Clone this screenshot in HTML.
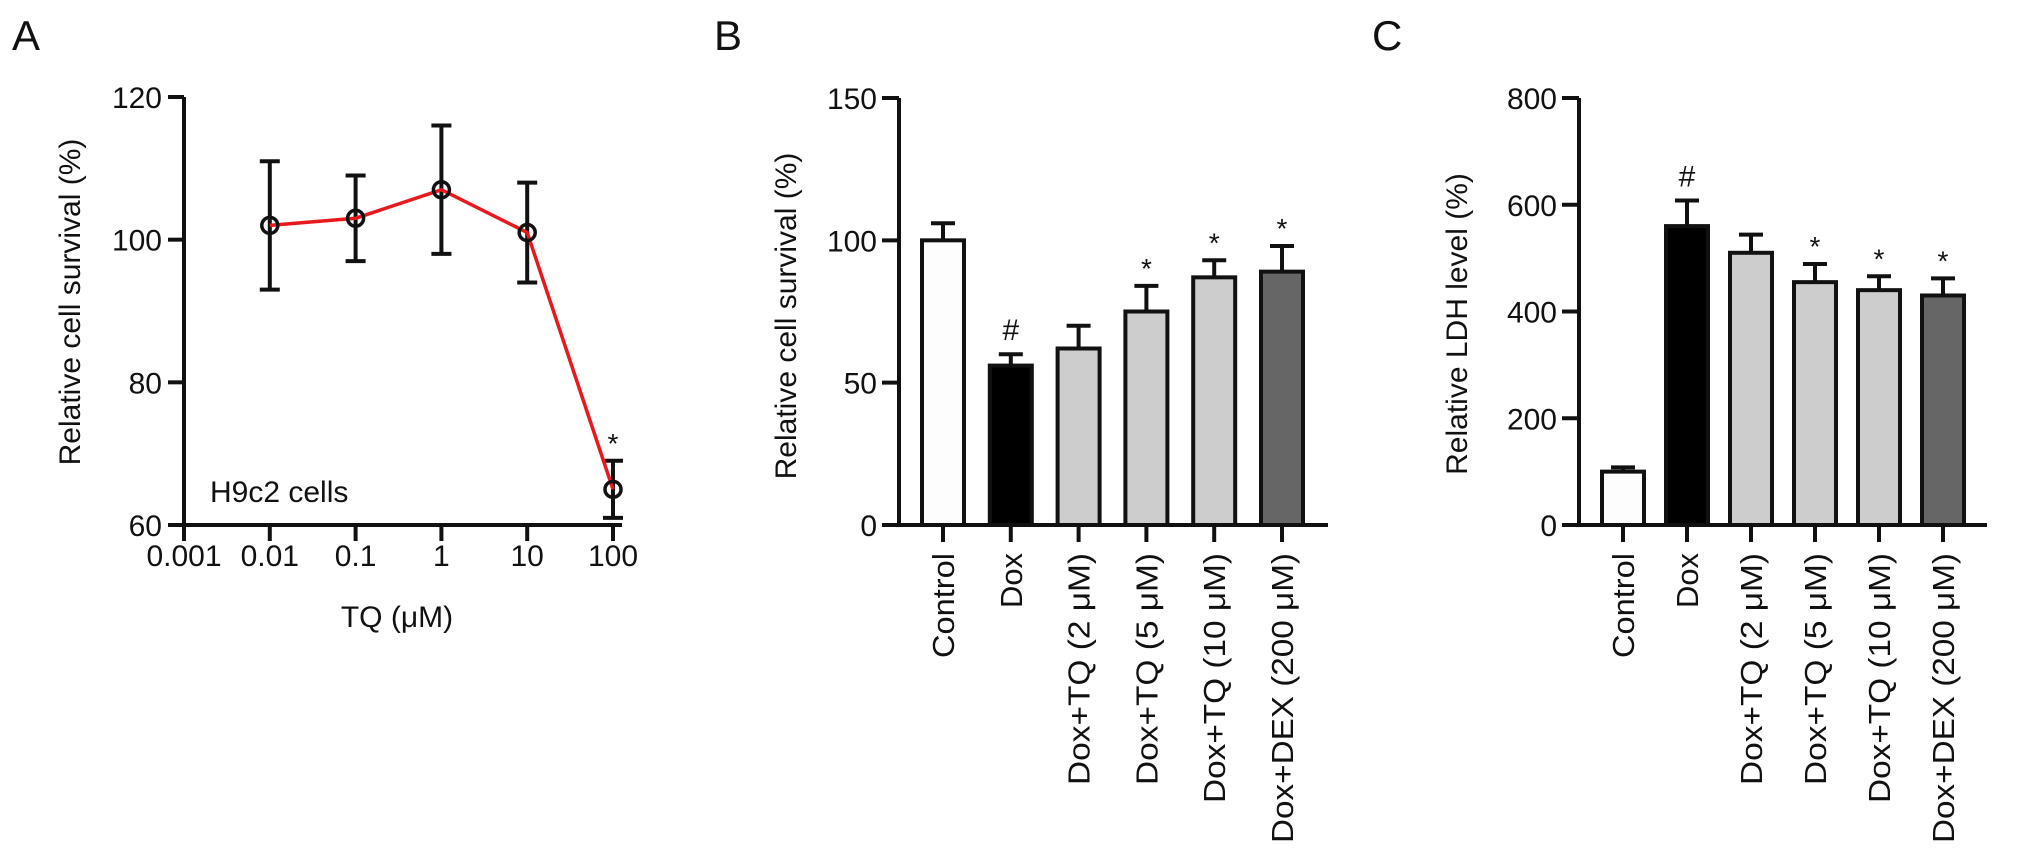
<!DOCTYPE html>
<html><head><meta charset="utf-8"><style>
html,body{margin:0;padding:0;background:#fff}
svg text{font-family:"Liberation Sans",Arial,sans-serif;fill:#111}
</style></head><body>
<svg id="fig" width="2032" height="856" xmlns="http://www.w3.org/2000/svg">
<text x="12" y="50" font-size="42">A</text>
<text x="714" y="50" font-size="42">B</text>
<text x="1372" y="50" font-size="42">C</text>
<g id="pa"></g>
<g id="pb"></g>
<g id="pc"></g>
</svg>
<script>
const NS='http://www.w3.org/2000/svg';
// Panel A data
const aDoses=[0.01,0.1,1,10,100];
const aMeans=[102,103,107,101,65];
const aErrs=[9,6,9,7,4];
const aXTicks=['0.001','0.01','0.1','1','10','100'];
const aYTicks=[60,80,100,120];
// Panel B data
const bCats=['Control','Dox','Dox+TQ (2 \u03bcM)','Dox+TQ (5 \u03bcM)','Dox+TQ (10 \u03bcM)','Dox+DEX (200 \u03bcM)'];
const bMeans=[100,56,62,75,87,89];
const bErrs=[6,4,8,9,6,9];
const bMarks=['','#','','*','*','*'];
const bYTicks=[0,50,100,150];
// Panel C data
const cMeans=[100,560,510,455,440,430];
const cErrs=[8,48,34,34,26,32];
const cMarks=['','#','','*','*','*'];
const cYTicks=[0,200,400,600,800];
const fills=['#fdfdfd','#000','#cdcdcd','#cdcdcd','#cdcdcd','#666'];

function mk(parent,tag,attrs,txt){const e=document.createElementNS(NS,tag);for(const k in attrs)e.setAttribute(k,attrs[k]);if(txt!==undefined)e.textContent=txt;parent.appendChild(e);return e;}
function line(p,x1,y1,x2,y2,c,w){return mk(p,'line',{x1,y1,x2,y2,stroke:c||'#111','stroke-width':w||4});}

// ---- Panel A
(function(){
  const g=document.getElementById('pa');
  const x0=184,x1=622,yTop=97,yBot=525;
  const xs=v=>184+(Math.log10(v)+3)*85.8;
  const ys=v=>yBot-(v-60)/60*(yBot-yTop);
  let l=line(g,x0,yTop,x0,yBot+2);
  l=line(g,x0-2,yBot,x1,yBot);
  aYTicks.forEach(v=>{line(g,x0-16,ys(v),x0,ys(v));
    const t=mk(g,'text',{x:x0-22,y:ys(v)+11,'font-size':30,'text-anchor':'end'},String(v));
    });
  aXTicks.forEach(s=>{const x=xs(parseFloat(s));line(g,x,yBot,x,yBot+16);
    const t=mk(g,'text',{x:x,y:566,'font-size':30,'text-anchor':'middle'},s);
    });
  let t=mk(g,'text',{x:397,y:627,'font-size':30,'text-anchor':'middle'},'TQ (\u03bcM)');
  
  t=mk(g,'text',{x:0,y:0,'font-size':30,'text-anchor':'middle',transform:'translate(80,302) rotate(-90)'},'Relative cell survival (%)');
  
  t=mk(g,'text',{x:210,y:502,'font-size':30},'H9c2 cells');
  
  aDoses.forEach((d,i)=>{const x=xs(d);
    const e=mk(g,'path',{d:`M${x-10},${ys(aMeans[i]+aErrs[i])}H${x+10}M${x},${ys(aMeans[i]+aErrs[i])}V${ys(aMeans[i]-aErrs[i])}M${x-10},${ys(aMeans[i]-aErrs[i])}H${x+10}`,stroke:'#111','stroke-width':4,fill:'none'});
    });
  const pl=mk(g,'polyline',{points:aDoses.map((d,i)=>xs(d)+','+ys(aMeans[i])).join(' '),fill:'none',stroke:'#e8191d','stroke-width':3.5});
  
  aDoses.forEach((d,i)=>{const c=mk(g,'circle',{cx:xs(d),cy:ys(aMeans[i]),r:8,fill:'none',stroke:'#111','stroke-width':3.5});
    });
  const last=aDoses.length-1;
  t=mk(g,'text',{x:xs(aDoses[last]),y:ys(aMeans[last]+aErrs[last])-8,'font-size':28,'text-anchor':'middle'},'*');
  
})();

function barPanel(id,ax,axEnd,firstX,step,yMax,ticks,means,errs,marks,ylab,ylx,yly){
  const g=document.getElementById(id);
  const yTop=98,yBot=525;
  const ys=v=>yBot-v/yMax*(yBot-yTop);
  let l=line(g,ax,yTop,ax,yBot+2);
  ticks.forEach(v=>{line(g,ax-17,ys(v),ax,ys(v));
    const t=mk(g,'text',{x:ax-22,y:ys(v)+11,'font-size':30,'text-anchor':'end'},String(v));
    });
  const lens=[105,55,232,232,250,290];
  means.forEach((m,i)=>{const cx=firstX+i*step,w=42;
    const e=mk(g,'path',{d:`M${cx},${ys(m)}V${ys(m+errs[i])}M${cx-12},${ys(m+errs[i])}H${cx+12}`,stroke:'#111','stroke-width':4,fill:'none'});
    
    const r=mk(g,'rect',{x:cx-w/2,y:ys(m),width:w,height:yBot-ys(m),fill:fills[i],stroke:'#111','stroke-width':4});
    
    
    line(g,cx,yBot,cx,yBot+17);
    if(marks[i]){const t=mk(g,'text',{x:cx,y:ys(m+errs[i])-(marks[i]=='#'?14:8),'font-size':marks[i]=='#'?30:28,'text-anchor':'middle'},marks[i]);
      }
    const t=mk(g,'text',{x:0,y:0,'font-size':31,'text-anchor':'end',textLength:lens[i],lengthAdjust:'spacingAndGlyphs',transform:`translate(${cx+11},553) rotate(-90)`},bCats[i]);
    
  });
  l=line(g,ax-2,yBot,axEnd,yBot);
  const t=mk(g,'text',{x:0,y:0,'font-size':30,'text-anchor':'middle',transform:`translate(${ylx},${yly}) rotate(-90)`},ylab);
  
}
barPanel('pb',899,1328,943,67.8,150,bYTicks,bMeans,bErrs,bMarks,'Relative cell survival (%)',796,316);
barPanel('pc',1579,1987,1623,64,800,cYTicks,cMeans,cErrs,cMarks,'Relative LDH level (%)',1467,324);
</script>
</body></html>
